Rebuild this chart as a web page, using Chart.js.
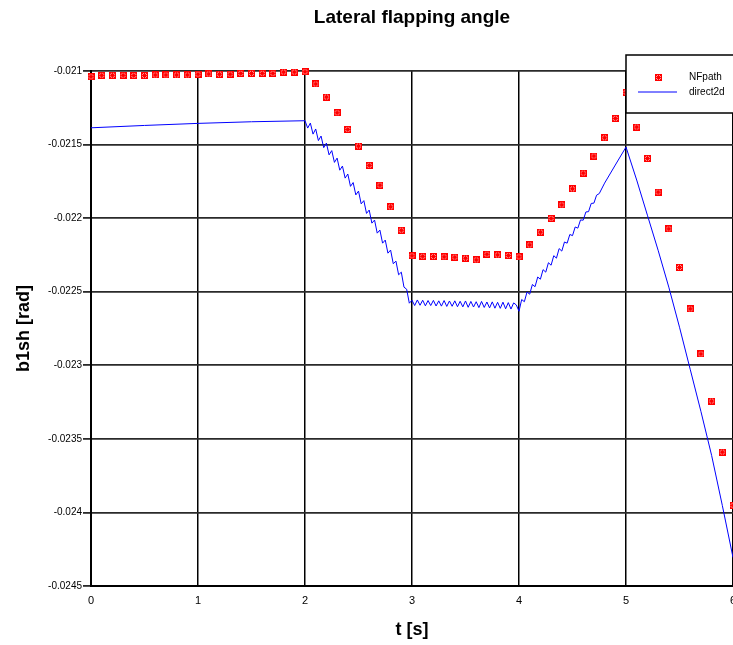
<!DOCTYPE html>
<html>
<head>
<meta charset="utf-8">
<title>Lateral flapping angle</title>
<script src="https://cdn.jsdelivr.net/npm/chart.js@4.4.1/dist/chart.umd.min.js"></script>
<style>
  html, body { margin: 0; padding: 0; background: #fff; overflow: hidden; }
  canvas { display: block; }
</style>
</head>
<body>
<canvas id="flapChart" width="780" height="645"></canvas>
<script>
// NFpath samples, every 0.1 s
const nfTime = [
  0.0, 0.1, 0.2, 0.3, 0.4, 0.5, 0.6, 0.7, 0.8, 0.9,
  1.0, 1.1, 1.2, 1.3, 1.4, 1.5, 1.6, 1.7, 1.8, 1.9,
  2.0, 2.1, 2.2, 2.3, 2.4, 2.5, 2.6, 2.7, 2.8, 2.9,
  3.0, 3.1, 3.2, 3.3, 3.4, 3.5, 3.6, 3.7, 3.8, 3.9,
  4.0, 4.1, 4.2, 4.3, 4.4, 4.5, 4.6, 4.7, 4.8, 4.9,
  5.0, 5.1, 5.2, 5.3, 5.4, 5.5, 5.6, 5.7, 5.8, 5.9,
  6.0
];
const nfValue = [
  -0.021039, -0.021029, -0.021029, -0.021029, -0.021031, -0.021031, -0.021027, -0.021027, -0.021027, -0.021027,
  -0.021022, -0.021020, -0.021022, -0.021022, -0.021016, -0.021016, -0.021016, -0.021016, -0.021007, -0.021007,
  -0.021005, -0.021088, -0.021177, -0.021284, -0.021397, -0.021510, -0.021641, -0.021776, -0.021923, -0.022082,
  -0.022256, -0.022259, -0.022261, -0.022263, -0.022265, -0.022272, -0.022284, -0.022245, -0.022250, -0.022254,
  -0.022263, -0.022182, -0.022095, -0.022002, -0.021910, -0.021801, -0.021694, -0.021578, -0.021454, -0.021322,
  -0.021145, -0.021381, -0.021594, -0.021823, -0.022073, -0.022335, -0.022617, -0.022923, -0.023243, -0.023590,
  -0.023952
];

// direct2d trace (oscillates while the path is changing)
const dTime = [
  0.0, 0.5, 1.0, 1.5,
  2.000, 2.025, 2.050, 2.075, 2.100, 2.125, 2.150, 2.175, 2.200, 2.225,
  2.250, 2.275, 2.300, 2.325, 2.350, 2.375, 2.400, 2.425, 2.450, 2.475,
  2.500, 2.525, 2.550, 2.575, 2.600, 2.625, 2.650, 2.675, 2.700, 2.725,
  2.750, 2.775, 2.800, 2.825, 2.850, 2.875, 2.900, 2.925, 2.950, 2.975,
  3.000, 3.025, 3.050, 3.075, 3.100, 3.125, 3.150, 3.175, 3.200, 3.225,
  3.250, 3.275, 3.300, 3.325, 3.350, 3.375, 3.400, 3.425, 3.450, 3.475,
  3.500, 3.525, 3.550, 3.575, 3.600, 3.625, 3.650, 3.675, 3.700, 3.725,
  3.750, 3.775, 3.800, 3.825, 3.850, 3.875, 3.900, 3.925, 3.950, 3.975,
  4.000, 4.025, 4.050, 4.075, 4.100, 4.125, 4.150, 4.175, 4.200, 4.225,
  4.250, 4.275, 4.300, 4.325, 4.350, 4.375, 4.400, 4.425, 4.450, 4.475,
  4.500, 4.525, 4.550, 4.575, 4.600, 4.625, 4.650, 4.675, 4.700, 4.725,
  4.750, 4.800, 4.900,
  5.0, 5.1, 5.2, 5.3, 5.4, 5.5, 5.6, 5.7, 5.8, 5.9, 6.0
];
const dValue = [
  -0.021386, -0.021370, -0.021356, -0.021345,
  -0.021338, -0.021388, -0.021354, -0.021429, -0.021394, -0.021473, -0.021442, -0.021521, -0.021490, -0.021570,
  -0.021541, -0.021621, -0.021592, -0.021674, -0.021646, -0.021728, -0.021700, -0.021784, -0.021758, -0.021842,
  -0.021816, -0.021903, -0.021881, -0.021968, -0.021945, -0.022034, -0.022013, -0.022102, -0.022081, -0.022170,
  -0.022149, -0.022238, -0.022217, -0.022310, -0.022292, -0.022385, -0.022367, -0.022469, -0.022483, -0.022578,
  -0.022558, -0.022594, -0.022556, -0.022592, -0.022558, -0.022596, -0.022560, -0.022594, -0.022559, -0.022597,
  -0.022562, -0.022598, -0.022560, -0.022600, -0.022563, -0.022599, -0.022562, -0.022602, -0.022565, -0.022603,
  -0.022563, -0.022606, -0.022566, -0.022604, -0.022568, -0.022608, -0.022566, -0.022607, -0.022570, -0.022610,
  -0.022569, -0.022612, -0.022572, -0.022613, -0.022571, -0.022616, -0.022574, -0.022618, -0.022576, -0.022590,
  -0.022633, -0.022553, -0.022568, -0.022502, -0.022517, -0.022451, -0.022466, -0.022400, -0.022415, -0.022350,
  -0.022367, -0.022303, -0.022320, -0.022255, -0.022272, -0.022207, -0.022224, -0.022162, -0.022170, -0.022111,
  -0.022119, -0.022060, -0.022068, -0.022012, -0.022014, -0.021958, -0.021956, -0.021900, -0.021898, -0.021844,
  -0.021833, -0.021762, -0.021639,
  -0.021517, -0.021741, -0.021980, -0.022218, -0.022469, -0.022741, -0.023027, -0.023313, -0.023612, -0.023952, -0.024306
];

const xTickLabels = ['0', '1', '2', '3', '4', '5', '6'];
const yTickLabels = ['-0.0245', '-0.024', '-0.0235', '-0.023', '-0.0225', '-0.022', '-0.0215', '-0.021'];
const seriesNames = ['NFpath', 'direct2d'];

Chart.defaults.font.family = '"Liberation Sans", Arial, sans-serif';
Chart.defaults.color = '#000';

// small red asterisk used as the NFpath marker: a solid red block with light gaps between the arms
function makeStar() {
  const c = document.createElement('canvas');
  c.width = 7;
  c.height = 7;
  const g = c.getContext('2d');
  g.fillStyle = '#ff0000';
  g.fillRect(0, 0, 7, 7);
  g.fillStyle = '#ff9a9a';
  [[2, 1], [4, 1], [1, 2], [5, 2], [1, 4], [5, 4], [2, 5], [4, 5]].forEach(([px, py]) => {
    g.fillRect(px, py, 1, 1);
  });
  return c;
}
const star = makeStar();

// boxed legend in the upper right corner, drawn over the data
const legendBox = {
  id: 'legendBox',
  afterDatasetsDraw(chart) {
    const { ctx, chartArea } = chart;
    const left = chartArea.right - 107;
    const top = chartArea.top - 16;
    ctx.save();
    ctx.fillStyle = '#fff';
    ctx.strokeStyle = '#000';
    ctx.lineWidth = 1.5;
    ctx.fillRect(left, top, 150, 58);
    ctx.strokeRect(left, top, 150, 58);

    ctx.drawImage(star, left + 29, top + 19);

    ctx.strokeStyle = '#0000ff';
    ctx.lineWidth = 1;
    ctx.beginPath();
    ctx.moveTo(left + 12, top + 37);
    ctx.lineTo(left + 51, top + 37);
    ctx.stroke();

    ctx.fillStyle = '#000';
    ctx.font = '10px "Liberation Sans", Arial, sans-serif';
    ctx.textBaseline = 'middle';
    ctx.textAlign = 'left';
    ctx.fillText(seriesNames[0], left + 63, top + 22);
    ctx.fillText(seriesNames[1], left + 63, top + 37);
    ctx.restore();
  }
};

const ctx = document.getElementById('flapChart').getContext('2d');
new Chart(ctx, {
  type: 'scatter',
  data: {
    datasets: [
      {
        label: seriesNames[0],
        data: nfTime.map((t, i) => ({ x: t, y: nfValue[i] })),
        pointStyle: star,
        pointRadius: 3.5,
        showLine: false,
        clip: false
      },
      {
        label: seriesNames[1],
        data: dTime.map((t, i) => ({ x: t, y: dValue[i] })),
        borderColor: '#0000ff',
        borderWidth: 1,
        pointRadius: 0,
        showLine: true,
        tension: 0
      }
    ]
  },
  options: {
    responsive: false,
    animation: false,
    events: [],
    layout: { padding: { left: 0, right: 47, top: 0, bottom: 0 } },
    plugins: {
      legend: { display: false },
      tooltip: { enabled: false },
      title: {
        display: true,
        fullSize: false,
        text: 'Lateral flapping angle',
        color: '#000',
        font: { size: 19, weight: 'bold' },
        padding: { top: 6, bottom: 42.2 }
      }
    },
    scales: {
      x: {
        type: 'linear',
        min: 0,
        max: 6,
        afterFit: scale => { scale.height = 59; },
        ticks: {
          stepSize: 1,
          padding: 8,
          font: { size: 11 },
          callback: (v, i) => xTickLabels[i]
        },
        grid: { color: '#000', lineWidth: 1.5, drawTicks: false },
        border: { color: '#000', width: 2 },
        title: {
          display: true,
          text: 't [s]',
          font: { size: 18, weight: 'bold' },
          padding: { top: 0, bottom: 4 }
        }
      },
      y: {
        type: 'linear',
        min: -0.0245,
        max: -0.021,
        afterFit: scale => { scale.width = 91; },
        ticks: {
          stepSize: 0.0005,
          padding: 1,
          font: { size: 10 },
          callback: (v, i) => yTickLabels[i]
        },
        grid: { color: '#2a2a2a', lineWidth: 1.8, tickLength: 8 },
        border: { color: '#000', width: 2 },
        title: {
          display: true,
          text: 'b1sh [rad]',
          font: { size: 18, weight: 'bold' },
          padding: { top: 13, bottom: 0 }
        }
      }
    }
  },
  plugins: [legendBox]
});
</script>
</body>
</html>
